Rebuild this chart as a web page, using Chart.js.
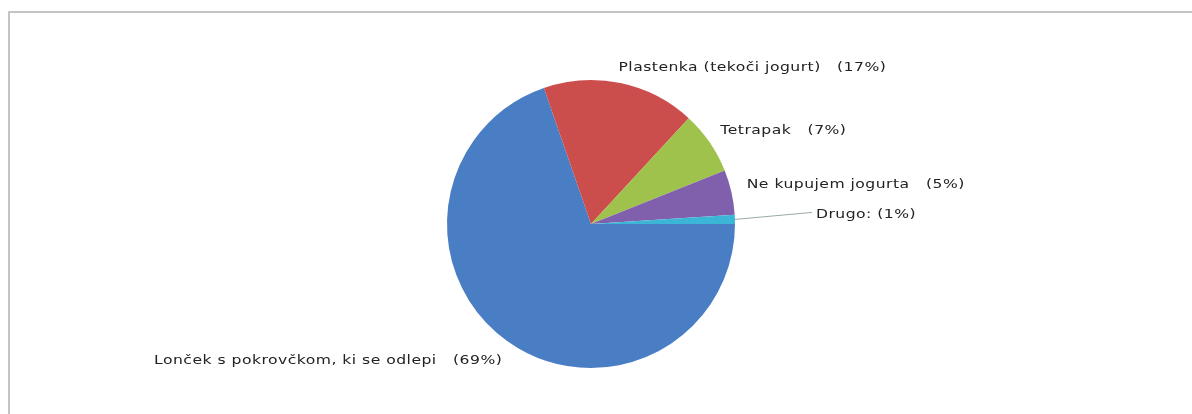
<!DOCTYPE html>
<html>
<head>
<meta charset="utf-8">
<script src="https://cdn.jsdelivr.net/npm/chart.js@4.4.1/dist/chart.umd.min.js"></script>
<style>
  html, body { margin: 0; padding: 0; background: #fff; }
  #wrap { position: relative; width: 1192px; height: 414px; overflow: hidden; }
  #frame { position: absolute; left: 8px; top: 11px; width: 1200px; height: 420px;
           border-top: 2px solid #c4c4c4; border-left: 2px solid #c4c4c4; }
  canvas { position: absolute; left: 0; top: 0; }
</style>
</head>
<body>
<div id="wrap">
  <div id="frame"></div>
  <canvas id="chart" width="1192" height="414"></canvas>
</div>
<script>
// pie data (clockwise from 3 o'clock)
const categories = ['Lonček s pokrovčkom, ki se odlepi', 'Plastenka (tekoči jogurt)', 'Tetrapak', 'Ne kupujem jogurta', 'Drugo:'];
const values = [69, 17, 7, 5, 1];
const colors = ['#4a7ec4', '#cc4e4c', '#9fc24c', '#8060ac', '#3cb6d6'];

// label text like "Tetrapak   (7%)"
const labelText = categories.map((c, i) => c + (c.endsWith(':') ? ' ' : '   ') + '(' + values[i] + '%)');

// outside labels, with a leader line for tiny slices
const outsideLabels = {
  id: 'outsideLabels',
  afterDatasetsDraw(chart) {
    const ctx = chart.ctx;
    const meta = chart.getDatasetMeta(0);
    const total = values.reduce((a, b) => a + b, 0);
    meta.data.forEach((arc, i) => {
      const p = arc.getProps(['x', 'y', 'startAngle', 'endAngle', 'outerRadius'], true);
      const mid = (p.startAngle + p.endAngle) / 2 - 2 * Math.PI / 180;
      const cx = Math.cos(mid), cy = Math.sin(mid);
      let tx, ty;
      if (values[i] / total < 0.02) {
        // leader line out to the right
        const m2 = (p.startAngle + p.endAngle) / 2;
        const ex = p.x + Math.cos(m2) * p.outerRadius, ey = p.y + Math.sin(m2) * p.outerRadius;
        tx = ex + 77; ty = ey - 7;
        ctx.save();
        ctx.strokeStyle = '#9aa8a8';
        ctx.lineWidth = 1;
        ctx.beginPath();
        ctx.moveTo(ex, ey);
        ctx.lineTo(tx, ty);
        ctx.stroke();
        ctx.restore();
        tx += 4;
      } else {
        const r = p.outerRadius + 17;
        tx = p.x + cx * r; ty = p.y + cy * r;
      }
      // wide, Verdana-like text
      ctx.save();
      ctx.font = '13px "DejaVu Sans", Verdana, sans-serif';
      ctx.letterSpacing = '0.4px';
      ctx.fillStyle = '#222';
      ctx.textBaseline = 'middle';
      ctx.textAlign = cx >= 0 ? 'left' : 'right';
      ctx.translate(tx, ty + 2);
      ctx.scale(1.2, 1);
      ctx.fillText(labelText[i], 0, 0);
      ctx.restore();
    });
  }
};

new Chart(document.getElementById('chart'), {
  type: 'pie',
  data: {
    labels: categories,
    datasets: [{ data: values, backgroundColor: colors, borderWidth: 0 }]
  },
  options: {
    responsive: false,
    animation: false,
    rotation: 90,
    layout: { padding: { top: 80, bottom: 46, left: 0, right: 10 } },
    plugins: { legend: { display: false }, tooltip: { enabled: false } }
  },
  plugins: [outsideLabels]
});
</script>
</body>
</html>
